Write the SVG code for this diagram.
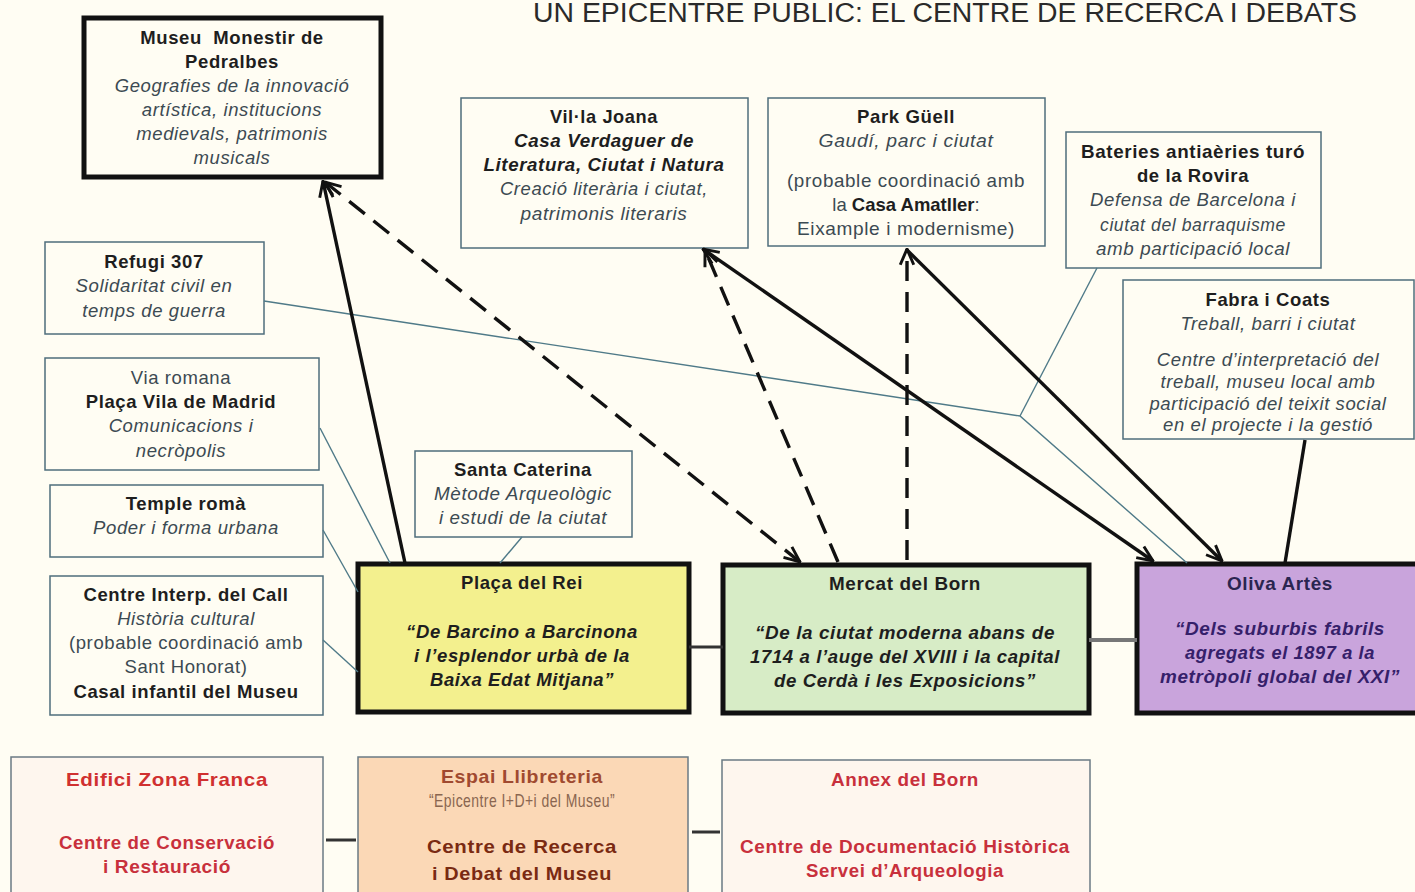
<svg xmlns="http://www.w3.org/2000/svg" width="1415" height="892" viewBox="0 0 1415 892">
<defs>
<marker id="arr" markerUnits="userSpaceOnUse" markerWidth="18" markerHeight="18" viewBox="0 0 16 14" refX="15" refY="7" orient="auto-start-reverse">
<path d="M1,1 L15,7 L1,13" fill="none" stroke="#111" stroke-width="2.6"/>
</marker>
<style>
text{font-family:"Liberation Sans",Arial,sans-serif;font-size:18.5px;letter-spacing:0.6px;text-anchor:middle;fill:#1e1e1e}
.b{font-weight:bold}
.i{font-style:italic;fill:#3c4a52}
.bi{font-weight:bold;font-style:italic;fill:#1e1e1e}
.n{fill:#3c4a52}
.thin{fill:#fffdf3;stroke:#4f6e7c;stroke-width:1.5}
.thick{stroke:#111;stroke-width:5}
.c{fill:none;stroke:#4f7a88;stroke-width:1.4}
.s{fill:none;stroke:#111;stroke-width:3.4}
.d{fill:none;stroke:#111;stroke-width:3.4;stroke-dasharray:20 11}
.red{fill:#d03030;font-weight:bold}
.red2{fill:#c8303c}
</style>
</defs>
<rect width="1415" height="892" fill="#fffdf3"/>
<text x="945" y="22" style="font-size:27px;fill:#2a2a2a;letter-spacing:0" textLength="824" lengthAdjust="spacingAndGlyphs">UN EPICENTRE PUBLIC:  EL CENTRE DE RECERCA I DEBATS</text>

<g id="museu-monestir">
<rect x="84" y="18" width="297" height="159" fill="#fffdf3" class="thick"/>
<text x="232" y="44" class="b">Museu&#160; Monestir de</text>
<text x="232" y="68" class="b">Pedralbes</text>
<text x="232" y="92" class="i">Geografies de la innovació</text>
<text x="232" y="116" class="i">artística, institucions</text>
<text x="232" y="140" class="i">medievals, patrimonis</text>
<text x="232" y="164" class="i">musicals</text>
</g>

<g id="villa-joana">
<rect x="461" y="98" width="287" height="150" class="thin"/>
<text x="604" y="123" class="b" textLength="108" lengthAdjust="spacingAndGlyphs">Vil·la Joana</text>
<text x="604" y="147" class="bi" textLength="180" lengthAdjust="spacingAndGlyphs">Casa Verdaguer de</text>
<text x="604" y="171" class="bi" textLength="241" lengthAdjust="spacingAndGlyphs">Literatura, Ciutat i Natura</text>
<text x="604" y="195" class="i" textLength="208" lengthAdjust="spacingAndGlyphs">Creació literària i ciutat,</text>
<text x="604" y="220" class="i" textLength="167" lengthAdjust="spacingAndGlyphs">patrimonis literaris</text>
</g>

<g id="park-guell">
<rect x="768" y="98" width="277" height="148" class="thin"/>
<text x="906" y="123" class="b" textLength="98" lengthAdjust="spacingAndGlyphs">Park Güell</text>
<text x="906" y="147" class="i" textLength="175" lengthAdjust="spacingAndGlyphs">Gaudí, parc i  ciutat</text>
<text x="906" y="187" class="n" textLength="238" lengthAdjust="spacingAndGlyphs">(probable coordinació amb</text>
<text x="906" y="211" class="n" style="letter-spacing:0">la <tspan class="b" style="fill:#1e1e1e">Casa Amatller</tspan>:</text>
<text x="906" y="235" class="n" textLength="218" lengthAdjust="spacingAndGlyphs">Eixample i modernisme)</text>
</g>

<g id="bateries">
<rect x="1066" y="132" width="255" height="136" class="thin"/>
<text x="1193" y="158" class="b" textLength="224" lengthAdjust="spacingAndGlyphs">Bateries antiaèries turó</text>
<text x="1193" y="182" class="b">de la Rovira</text>
<text x="1193" y="206" class="i" textLength="206" lengthAdjust="spacingAndGlyphs">Defensa de Barcelona i</text>
<text x="1193" y="231" class="i" textLength="186" lengthAdjust="spacingAndGlyphs">ciutat del barraquisme</text>
<text x="1193" y="255" class="i" textLength="194" lengthAdjust="spacingAndGlyphs">amb participació local</text>
</g>

<g id="fabra-coats">
<rect x="1123" y="280" width="291" height="159" class="thin"/>
<text x="1268" y="306" class="b">Fabra i Coats</text>
<text x="1268" y="330" class="i">Treball, barri i ciutat</text>
<text x="1268" y="366" class="i">Centre d’interpretació del</text>
<text x="1268" y="388" class="i">treball, museu local amb</text>
<text x="1268" y="410" class="i">participació del teixit social</text>
<text x="1268" y="431" class="i">en el projecte i la gestió</text>
</g>

<g id="refugi-307">
<rect x="45" y="242" width="219" height="92" class="thin"/>
<text x="154" y="268" class="b">Refugi 307</text>
<text x="154" y="292" class="i" textLength="157" lengthAdjust="spacingAndGlyphs">Solidaritat civil en</text>
<text x="154" y="317" class="i">temps de guerra</text>
</g>

<g id="placa-vila-madrid">
<rect x="45" y="358" width="274" height="112" class="thin"/>
<text x="181" y="384" class="n">Via romana</text>
<text x="181" y="408" class="b">Plaça Vila de Madrid</text>
<text x="181" y="432" class="i">Comunicacions i</text>
<text x="181" y="457" class="i">necròpolis</text>
</g>

<g id="temple-roma">
<rect x="50" y="485" width="273" height="72" class="thin"/>
<text x="186" y="510" class="b">Temple romà</text>
<text x="186" y="534" class="i">Poder i forma urbana</text>
</g>

<g id="centre-call">
<rect x="50" y="576" width="273" height="139" class="thin"/>
<text x="186" y="601" class="b">Centre Interp. del Call</text>
<text x="186" y="625" class="i">Història cultural</text>
<text x="186" y="649" class="n">(probable coordinació amb</text>
<text x="186" y="673" class="n">Sant Honorat)</text>
<text x="186" y="698" class="b">Casal infantil del Museu</text>
</g>

<g id="santa-caterina">
<rect x="415" y="451" width="217" height="86" class="thin"/>
<text x="523" y="476" class="b">Santa Caterina</text>
<text x="523" y="500" class="i" textLength="178" lengthAdjust="spacingAndGlyphs">Mètode Arqueològic</text>
<text x="523" y="524" class="i" textLength="168" lengthAdjust="spacingAndGlyphs">i estudi de la ciutat</text>
</g>

<g id="placa-rei">
<rect x="358" y="564" width="331" height="148" fill="#f3f08e" class="thick"/>
<text x="522" y="589" class="b">Plaça del Rei</text>
<text x="522" y="638" class="bi">“De Barcino a Barcinona</text>
<text x="522" y="662" class="bi">i l’esplendor urbà de la</text>
<text x="522" y="686" class="bi">Baixa Edat Mitjana”</text>
</g>

<g id="mercat-born">
<rect x="723" y="565" width="366" height="148" fill="#d7ecc6" class="thick"/>
<text x="905" y="590" class="b" textLength="152" lengthAdjust="spacingAndGlyphs">Mercat del Born</text>
<text x="905" y="639" class="bi" textLength="300" lengthAdjust="spacingAndGlyphs">“De la ciutat moderna abans de</text>
<text x="905" y="663" class="bi" textLength="310" lengthAdjust="spacingAndGlyphs">1714 a l’auge del XVIII i la capital</text>
<text x="905" y="687" class="bi" textLength="262" lengthAdjust="spacingAndGlyphs">de Cerdà i les Exposicions”</text>
</g>

<g id="oliva-artes">
<rect x="1137" y="564" width="290" height="149" fill="#c9a4dc" class="thick"/>
<text x="1280" y="590" class="b" style="fill:#2a2550" textLength="106" lengthAdjust="spacingAndGlyphs">Oliva Artès</text>
<text x="1280" y="635" class="bi" style="fill:#35206a" textLength="210" lengthAdjust="spacingAndGlyphs">“Dels suburbis fabrils</text>
<text x="1280" y="659" class="bi" style="fill:#35206a" textLength="190" lengthAdjust="spacingAndGlyphs">agregats el 1897 a la</text>
<text x="1280" y="683" class="bi" style="fill:#35206a" textLength="240" lengthAdjust="spacingAndGlyphs">metròpoli global del XXI”</text>
</g>

<g id="edifici-zona-franca">
<rect x="11" y="757" width="312" height="145" fill="#fef6ee" stroke="#6b7a84" stroke-width="1.5"/>
<text x="167" y="786" class="red" style="font-size:19px" textLength="202" lengthAdjust="spacingAndGlyphs">Edifici Zona Franca</text>
<text x="167" y="849" class="red2" style="font-weight:bold" textLength="216" lengthAdjust="spacingAndGlyphs">Centre de Conservació</text>
<text x="167" y="873" class="red2" style="font-weight:bold" textLength="128" lengthAdjust="spacingAndGlyphs">i Restauració</text>
</g>

<g id="espai-llibreteria">
<rect x="358" y="757" width="330" height="145" fill="#fbd8b6" stroke="#6b7a84" stroke-width="1.5"/>
<text x="522" y="783" style="fill:#a04a30;font-weight:bold" textLength="162" lengthAdjust="spacingAndGlyphs">Espai  Llibreteria</text>
<text x="522" y="807" style="fill:#8a6650" textLength="186" lengthAdjust="spacingAndGlyphs">“Epicentre I+D+i del Museu”</text>
<text x="522" y="853" style="fill:#7a2a12;font-weight:bold;font-size:19px" textLength="190" lengthAdjust="spacingAndGlyphs">Centre de Recerca</text>
<text x="522" y="880" style="fill:#7a2a12;font-weight:bold;font-size:19px" textLength="180" lengthAdjust="spacingAndGlyphs">i Debat del Museu</text>
</g>

<g id="annex-born">
<rect x="722" y="760" width="368" height="142" fill="#fef6ee" stroke="#6b7a84" stroke-width="1.5"/>
<text x="905" y="786" class="red2" style="font-weight:bold" textLength="148" lengthAdjust="spacingAndGlyphs">Annex del Born</text>
<text x="905" y="853" class="red2" style="font-weight:bold" textLength="330" lengthAdjust="spacingAndGlyphs">Centre de Documentació Històrica</text>
<text x="905" y="877" class="red2" style="font-weight:bold" textLength="198" lengthAdjust="spacingAndGlyphs">Servei d’Arqueologia</text>
</g>

<g id="connectors">
<path class="c" d="M264,301 L1020,416 L1187,563"/>
<path class="c" d="M1097,268 L1020,416"/>
<path class="c" d="M320,428 L390,563"/>
<path class="c" d="M323,530 L358,592"/>
<path class="c" d="M323,640 L358,672"/>
<path class="c" d="M522,537 L500,563"/>
<path d="M689,647 L723,647" stroke="#333" stroke-width="3"/>
<path d="M1089,640 L1137,640" stroke="#777" stroke-width="4"/>
<path d="M326,840 L356,840" stroke="#333" stroke-width="3"/>
<path d="M692,832 L720,832" stroke="#333" stroke-width="3"/>
<path class="s" d="M405,563 L323,181" marker-end="url(#arr)"/>
<path class="s" d="M1153,561 L703,249" marker-start="url(#arr)" marker-end="url(#arr)"/>
<path class="s" d="M907,250 L1222,561" marker-end="url(#arr)"/>
<path class="s" d="M1305,440 L1285,563"/>
<path class="d" d="M325,182 L800,562" marker-start="url(#arr)" marker-end="url(#arr)"/>
<path class="d" d="M838,562 L705,250" marker-end="url(#arr)"/>
<path class="d" d="M907,560 L907,249" marker-end="url(#arr)"/>
</g>
</svg>
